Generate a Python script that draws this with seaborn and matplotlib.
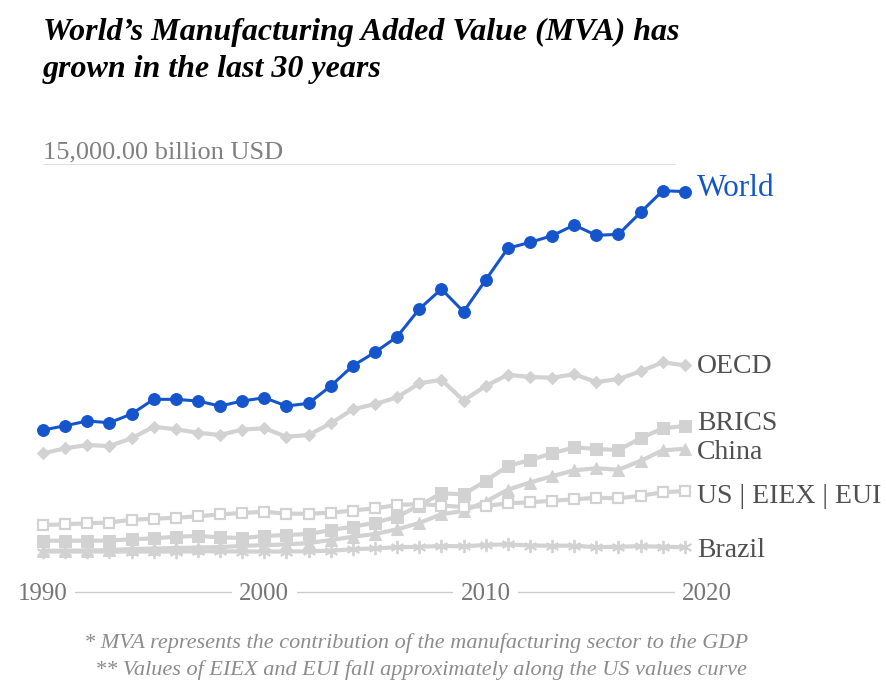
import matplotlib
matplotlib.use("Agg")
import matplotlib.pyplot as plt
import seaborn as sns
import pandas as pd

# ---------------- data (billion USD) ----------------
years = list(range(1990, 2020))

world = [4795, 4960, 5140, 5075, 5409, 5972, 5972, 5907, 5715, 5907,
         6034, 5715, 5819, 6483, 7261, 7775, 8374, 9436, 10203, 9333,
         10549, 11765, 11995, 12248, 12658, 12263, 12302, 13145, 13974, 13943]

oecd = [3901, 4093, 4219, 4181, 4476, 4921, 4822, 4691, 4603, 4814,
        4860, 4538, 4603, 5052, 5589, 5792, 6049, 6586, 6724, 5926,
        6483, 6916, 6828, 6801, 6935, 6636, 6751, 7046, 7392, 7277]

brics = [549, 549, 549, 556, 602, 641, 702, 729, 679, 652,
         729, 767, 806, 959, 1086, 1239, 1469, 1899, 2367, 2328,
         2839, 3414, 3644, 3901, 4131, 4066, 4028, 4476, 4860, 4948]

china = [165, 165, 173, 192, 230, 249, 269, 288, 307, 345,
         384, 403, 460, 575, 702, 806, 986, 1227, 1565, 1688,
         2045, 2505, 2781, 3023, 3249, 3326, 3272, 3613, 4016, 4074]

us = [1151, 1178, 1216, 1247, 1354, 1392, 1431, 1484, 1561, 1611,
      1661, 1584, 1584, 1623, 1707, 1791, 1918, 1956, 1899, 1841,
      1880, 1983, 2021, 2083, 2137, 2198, 2175, 2275, 2405, 2455]

brazil = [134, 134, 134, 134, 134, 134, 134, 142, 142, 134,
          134, 134, 142, 165, 219, 257, 295, 318, 345, 334,
          384, 410, 364, 357, 357, 299, 318, 338, 318, 295]

series_names = ["Brazil", "China", "BRICS", "US | EIEX | EUI", "OECD", "World"]
series_values = [brazil, china, brics, us, oecd, world]

x_ticks = [1990, 2000, 2010, 2020]
x_tick_labels = ["1990", "2000", "2010", "2020"]

title_lines = ["World\u2019s Manufacturing Added Value (MVA) has",
               "grown in the last 30 years"]
footnotes = ["* MVA represents the contribution of the manufacturing sector to the GDP",
             "** Values of EIEX and EUI fall approximately along the US values curve"]

# ---------------- styles ----------------
BLUE = "#1455cc"
GRAY = "#d2d2d2"
LABEL_GRAY = "#505050"

styles = {
    "World": dict(color=BLUE, marker="o", markersize=8.5, linewidth=2.2,
                  markeredgecolor=BLUE, markerfacecolor=BLUE, zorder=10),
    "OECD": dict(color=GRAY, marker="D", markersize=6.5, linewidth=3.0,
                 markeredgecolor=GRAY, markerfacecolor=GRAY, zorder=6),
    "BRICS": dict(color=GRAY, marker="s", markersize=8, linewidth=3.0,
                  markeredgecolor=GRAY, markerfacecolor=GRAY, zorder=4),
    "China": dict(color=GRAY, marker="^", markersize=8.5, linewidth=3.0,
                  markeredgecolor=GRAY, markerfacecolor=GRAY, zorder=3),
    "US | EIEX | EUI": dict(color=GRAY, marker="s", markersize=7.5, linewidth=3.0,
                            markeredgecolor=GRAY, markerfacecolor="white",
                            markeredgewidth=1.6, zorder=5),
    "Brazil": dict(color=GRAY, marker=(6, 2, 0), markersize=9.5, linewidth=3.0,
                   markeredgecolor=GRAY, markeredgewidth=1.3, zorder=2),
}

# label positions (x in years, y = text baseline in data units)
label_x = 2019.55
label_baseline = {"World": 13770, "OECD": 6981, "BRICS": 4795,
                  "China": 3682, "US | EIEX | EUI": 1995, "Brazil": -77}
label_color = {"World": BLUE}
label_size = {"World": 22.5}

# ---------------- figure ----------------
sns.set_theme(style="white")
plt.rcParams["font.family"] = ["Liberation Serif", "DejaVu Serif"]

W, H = 886, 682
fig = plt.figure(figsize=(W / 100, H / 100), dpi=100)
ax_left, ax_right, ax_top, ax_bottom = 43, 707, 164, 592
ax = fig.add_axes([ax_left / W, 1 - ax_bottom / H,
                   (ax_right - ax_left) / W, (ax_bottom - ax_top) / H])

df = pd.DataFrame({"year": years * len(series_names),
                   "value": sum(series_values, []),
                   "series": [n for n in series_names for _ in years]})

for name in series_names:
    sub = df[df["series"] == name]
    st = dict(styles[name])
    sns.lineplot(data=sub, x="year", y="value", ax=ax, legend=False,
                 clip_on=False, **st)

ax.set_xlim(1990, 2020)
ax.set_ylim(-1419, 15000)

# top gridline + unit label
ax.hlines(15000, 1990, 2018.6, color="#d9d9d9", linewidth=1.2, zorder=1)
ax.annotate("15,000.00 billion USD", xy=(1990, 15000), xytext=(0, 4.3),
            textcoords="offset points", va="baseline", ha="left",
            fontsize=19, color="#808080")

# axes styling
for s in ["top", "right", "left"]:
    ax.spines[s].set_visible(False)
ax.spines["bottom"].set_color("#cccccc")
ax.spines["bottom"].set_linewidth(1.0)
ax.spines["bottom"].set_zorder(0.5)
ax.xaxis.set_zorder(3)
ax.set_yticks([])
ax.set_xlabel("")
ax.set_ylabel("")
ax.set_xticks(x_ticks)
ax.set_xticklabels(x_tick_labels)
ax.tick_params(axis="x", length=0, pad=1.2, labelsize=18, labelcolor="#757575")
for lbl in ax.get_xticklabels():
    lbl.set_va("center")
    lbl.set_bbox(dict(facecolor="white", edgecolor="none",
                      boxstyle="square,pad=0.3"))

# series labels
for name in series_names:
    ax.text(label_x, label_baseline[name], name, va="baseline", ha="left",
            fontsize=label_size.get(name, 20),
            color=label_color.get(name, LABEL_GRAY), clip_on=False)

# title
fig.text(43 / W, 1 - 40 / H, title_lines[0], fontsize=23, fontweight="bold",
         fontstyle="italic", color="black", va="baseline", ha="left")
fig.text(43 / W, 1 - 77 / H, title_lines[1], fontsize=23, fontweight="bold",
         fontstyle="italic", color="black", va="baseline", ha="left")

# footnotes
fig.text(416 / W, 1 - 648 / H, footnotes[0], fontsize=16, fontstyle="italic",
         color="#8c8c8c", va="baseline", ha="center")
fig.text(421 / W, 1 - 675 / H, footnotes[1], fontsize=16, fontstyle="italic",
         color="#8c8c8c", va="baseline", ha="center")

fig.savefig("out.png", dpi=100, facecolor="white")
